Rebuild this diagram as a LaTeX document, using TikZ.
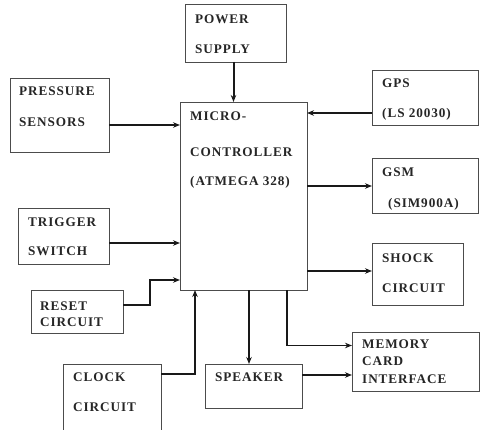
\documentclass[tikz,border=0pt]{standalone}
\usepackage{fontspec}
\setmainfont{Liberation Serif}
\newfontfamily\lblfont[LetterSpace=7]{Liberation Serif}
\usetikzlibrary{arrows.meta,calc}
\tikzset{
  box/.style={draw=black!70, line width=0.9pt, inner sep=0pt, outer sep=0pt, anchor=north west, fill=white},
  txt/.style={anchor=base west, inner sep=0pt, font=\lblfont\bfseries\fontsize{13.2}{15}\selectfont, text=black!85},
  arr/.style={line width=1.4pt, draw=black!90, -{Stealth[length=7pt,width=5.5pt]}},
  thickarr/.style={arr, line width=2pt}
}
\begin{document}
\begin{tikzpicture}[x=1pt,y=-1pt]
\useasboundingbox (0,0) rectangle (481,430);
% boxes
\node[box, minimum width=101, minimum height=58] (pw) at (185,4) {};
\node[box, minimum width=99, minimum height=74] (ps) at (10,78) {};
\node[box, minimum width=127, minimum height=188] (mc) at (180,102) {};
\node[box, minimum width=106, minimum height=55] (gps) at (372,70) {};
\node[box, minimum width=106, minimum height=55] (gsm) at (372,158) {};
\node[box, minimum width=91, minimum height=62] (sh) at (372,243) {};
\node[box, minimum width=127, minimum height=59] (mem) at (352,332) {};
\node[box, minimum width=97, minimum height=44] (sp) at (205,364) {};
\node[box, minimum width=98, minimum height=70] (ck) at (63,364) {};
\node[box, minimum width=92, minimum height=43] (rs) at (31,290) {};
\node[box, minimum width=91, minimum height=56] (tr) at (18,208) {};
% texts
\node[txt] (pw1) at (195,23.5) {POWER};
\node[txt] (pw2) at (195,53.5) {SUPPLY};
\node[txt] (ps1) at (19,95.5) {PRESSURE};
\node[txt] (ps2) at (19,126.5) {SENSORS};
\node[txt] (mc1) at (190,120.5) {MICRO-};
\node[txt] (mc2) at (190,156.5) {CONTROLLER};
\node[txt] (mc3) at (190,185.5) {(ATMEGA 328)};
\node[txt] (gps1) at (382,87.5) {GPS};
\node[txt] (gps2) at (382,117.5) {(LS 20030)};
\node[txt] (gsm1) at (382,176.5) {GSM};
\node[txt] (gsm2) at (388,207.5) {(SIM900A)};
\node[txt] (sh1) at (382,262.5) {SHOCK};
\node[txt] (sh2) at (382,292.5) {CIRCUIT};
\node[txt] (mem1) at (362,348.5) {MEMORY};
\node[txt] (mem2) at (362,365.5) {CARD};
\node[txt] (mem3) at (362,383.5) {INTERFACE};
\node[txt] (sp1) at (215,381.5) {SPEAKER};
\node[txt] (ck1) at (73,381.5) {CLOCK};
\node[txt] (ck2) at (73,411.5) {CIRCUIT};
\node[txt] (rs1) at (40,310.5) {RESET};
\node[txt] (rs2) at (40,326.5) {CIRCUIT};
\node[txt] (tr1) at (28,226.5) {TRIGGER};
\node[txt] (tr2) at (28,255.5) {SWITCH};
% connectors
\draw[thickarr] ($(pw.south)+(-2,0)$) -- ($(pw.south |- mc.north)+(-2,0)$);
\draw[thickarr] ($(ps.east)+(0,10)$) -- ($(ps.east -| mc.west)+(0,10)$);
\draw[arr] ($(gps.west)+(0,15.5)$) -- ($(gps.west -| mc.east)+(0,15.5)$);
\draw[arr] ($(gsm.west -| mc.east)+(0,0.5)$) -- ($(gsm.west)+(0,0.5)$);
\draw[arr] ($(sh.west -| mc.east)+(0,-3)$) -- ($(sh.west)+(0,-3)$);
\draw[thickarr] ($(tr.east)+(0,7)$) -- ($(tr.east -| mc.west)+(0,7)$);
\draw[thickarr] ($(rs.east)+(0,-6.5)$) -| ($(rs.east)+(27,-6.5)$) |- ($(mc.south west)+(0,-10)$);
\draw[thickarr] ($(ck.north east)+(0,10)$) -| ($(mc.south west)+(15,0)$);
\draw[thickarr] ($(mc.south west)+(69,0)$) -- ($(sp.north west)+(44,0)$);
\draw[arr] ($(mc.south west)+(107,0)$) |- ($(mem.north west)+(0,13.5)$);
\draw[arr] ($(sp.north east)+(0,11)$) -- ($(mem.north west)+(0,43)$);
\end{tikzpicture}
\end{document}
